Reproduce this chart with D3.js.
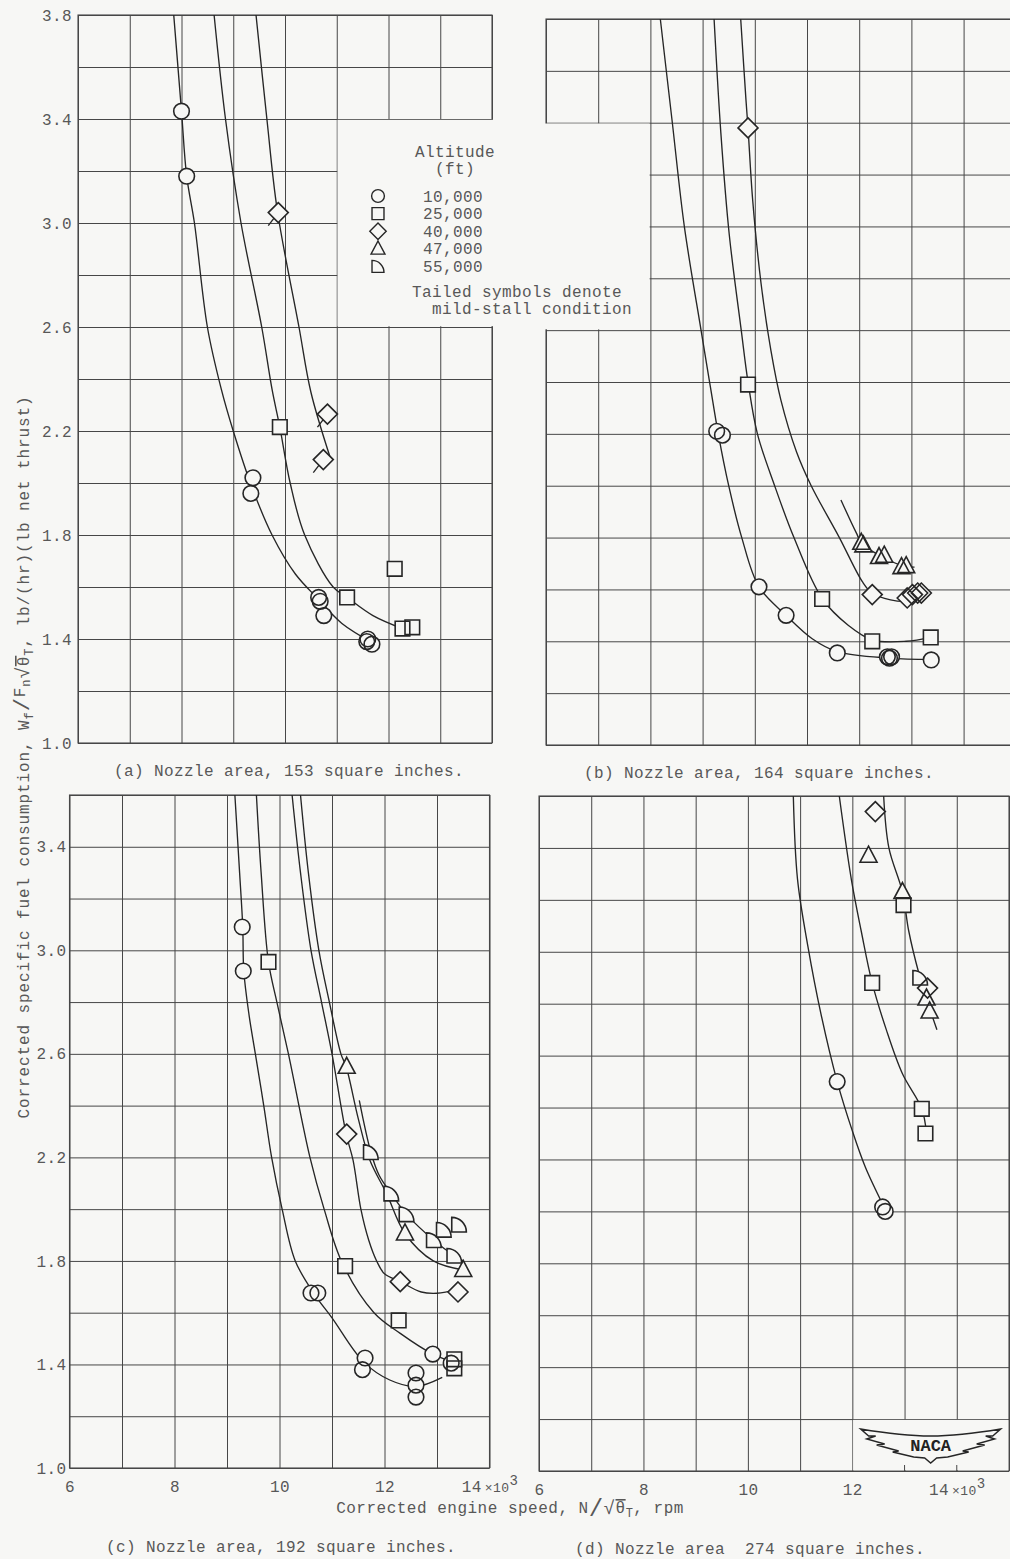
<!DOCTYPE html>
<html>
<head>
<meta charset="utf-8">
<script src="https://cdn.jsdelivr.net/npm/d3@7"></script>
<style>
  html, body { margin: 0; padding: 0; background: #f7f7f5; }
  svg { display: block; }
  text { font-family: "Liberation Mono", "DejaVu Sans Mono", monospace; fill: #585858; }
</style>
</head>
<body>
<div id="chart"></div>
<script>
// altitude series (legend) and their symbols
const altitudes = ["10,000", "25,000", "40,000", "47,000", "55,000"];
const symbolTypes = ["circle", "square", "diamond", "triangle", "quarter"];

const yTicksTop = [1.0, 1.4, 1.8, 2.2, 2.6, 3.0, 3.4, 3.8];
const yTicksBottom = [1.0, 1.4, 1.8, 2.2, 2.6, 3.0, 3.4];
const xTicks = [6, 8, 10, 12, 14];

// points: [altitude index, corrected speed (1000 rpm), corrected sfc, tailed]
const pointsA = [
    [0, 8.0, 3.43], [0, 8.1, 3.18], [0, 9.38, 2.02], [0, 9.34, 1.96],
    [0, 10.65, 1.56], [0, 10.68, 1.545], [0, 10.75, 1.49],
    [0, 11.6, 1.40], [0, 11.58, 1.39], [0, 11.68, 1.38],
    [1, 9.9, 2.215], [1, 11.2, 1.56], [1, 12.12, 1.67], [1, 12.27, 1.44], [1, 12.46, 1.445],
    [2, 9.87, 3.04, 1], [2, 10.82, 2.265, 1], [2, 10.74, 2.09, 1]
];
// faired curves: [altitude index, [[speed, sfc], ...]]
const curvesA = [
    [0, [[7.85, 3.8], [8.0, 3.43], [8.1, 3.18], [8.25, 3.0], [8.5, 2.6], [8.77, 2.36], [9.0, 2.2], [9.35, 1.99],
         [9.75, 1.8], [10.2, 1.65], [10.66, 1.55], [11.1, 1.46], [11.7, 1.385]]],
    [1, [[8.63, 3.8], [8.85, 3.4], [9.15, 3.0], [9.55, 2.6], [9.75, 2.36], [9.9, 2.215], [10.1, 2.0],
         [10.38, 1.8], [10.93, 1.6], [11.2, 1.56], [11.7, 1.49], [12.27, 1.44]]],
    [2, [[9.44, 3.8], [9.65, 3.4], [9.85, 3.05], [10.27, 2.6], [10.5, 2.35], [10.87, 2.1]]]
];

const pointsB = [
    [0, 9.27, 2.21], [0, 9.38, 2.195], [0, 10.08, 1.61], [0, 10.6, 1.50], [0, 11.58, 1.355],
    [0, 12.54, 1.34], [0, 12.58, 1.335], [0, 12.62, 1.34], [0, 13.38, 1.328],
    [1, 9.87, 2.39], [1, 11.29, 1.563], [1, 12.25, 1.40], [1, 13.37, 1.415],
    [2, 9.87, 3.38], [2, 12.25, 1.58], [2, 12.92, 1.567], [2, 13.02, 1.58], [2, 13.12, 1.586], [2, 13.19, 1.586],
    [3, 12.04, 1.78], [3, 12.08, 1.77], [3, 12.38, 1.725], [3, 12.48, 1.73], [3, 12.81, 1.686], [3, 12.9, 1.69]
];
const curvesB = [
    [0, [[8.19, 3.8], [8.42, 3.4], [8.65, 3.0], [8.97, 2.6], [9.15, 2.38], [9.3, 2.2], [9.5, 2.0], [9.75, 1.8],
         [10.08, 1.61], [10.6, 1.5], [11.1, 1.41], [11.58, 1.36], [12.58, 1.335], [13.38, 1.33]]],
    [1, [[9.22, 3.8], [9.35, 3.36], [9.51, 2.97], [9.74, 2.6], [9.87, 2.4], [10.05, 2.2], [10.38, 2.0], [10.75, 1.8],
         [11.29, 1.565], [11.8, 1.46], [12.25, 1.405], [12.9, 1.40], [13.37, 1.415]]],
    [2, [[9.73, 3.8], [9.83, 3.49], [9.87, 3.38], [9.96, 3.1], [10.12, 2.78], [10.31, 2.52], [10.5, 2.33],
         [10.8, 2.13], [11.08, 2.0], [11.62, 1.8], [12.06, 1.63], [12.25, 1.585], [12.6, 1.56], [12.92, 1.555], [13.12, 1.57]]],
    [3, [[11.65, 1.945], [11.94, 1.82], [12.06, 1.775], [12.43, 1.727], [12.85, 1.69], [13.06, 1.686]]]
];

const pointsC = [
    [0, 9.29, 3.09], [0, 9.31, 2.92], [0, 10.6, 1.676], [0, 10.73, 1.676], [0, 11.63, 1.425], [0, 11.58, 1.38],
    [0, 12.6, 1.367], [0, 12.6, 1.32], [0, 12.6, 1.274], [0, 12.92, 1.44], [0, 13.27, 1.405],
    [1, 9.79, 2.955], [1, 11.25, 1.78], [1, 12.27, 1.57], [1, 13.33, 1.42], [1, 13.33, 1.385],
    [2, 11.28, 2.29], [2, 12.3, 1.72], [2, 13.4, 1.68],
    [3, 11.28, 2.55], [3, 12.39, 1.906], [3, 13.5, 1.765],
    [4, 11.74, 2.22], [4, 12.13, 2.06], [4, 12.42, 1.98], [4, 12.94, 1.88], [4, 13.13, 1.92], [4, 13.33, 1.82], [4, 13.42, 1.94]
];
const curvesC = [
    [0, [[9.15, 3.6], [9.24, 3.3], [9.30, 3.09], [9.32, 2.92], [9.42, 2.75], [9.54, 2.6], [9.7, 2.4], [9.85, 2.2],
         [10.05, 2.0], [10.3, 1.8], [10.67, 1.67], [11.0, 1.58], [11.6, 1.41], [12.1, 1.34], [12.6, 1.315], [13.1, 1.35]]],
    [1, [[9.56, 3.6], [9.65, 3.3], [9.79, 2.955], [9.95, 2.8], [10.17, 2.6], [10.58, 2.2], [10.85, 2.0], [11.2, 1.79],
         [11.8, 1.6], [12.3, 1.52], [12.92, 1.44], [13.3, 1.41]]],
    [2, [[10.24, 3.6], [10.4, 3.3], [10.6, 3.0], [10.8, 2.8], [11.0, 2.6], [11.27, 2.29], [11.4, 2.19], [11.55, 2.0],
         [11.7, 1.88], [11.85, 1.8], [12.0, 1.75], [12.3, 1.72], [12.7, 1.68], [13.0, 1.675], [13.4, 1.69]]],
    [3, [[10.4, 3.6], [10.55, 3.3], [10.75, 3.0], [10.95, 2.8], [11.17, 2.6], [11.27, 2.55], [11.5, 2.35], [11.72, 2.19],
         [12.04, 2.06], [12.39, 1.906], [12.93, 1.80], [13.5, 1.765]]],
    [4, [[11.52, 2.42], [11.74, 2.22], [11.9, 2.13], [12.13, 2.06], [12.42, 1.98], [12.94, 1.88], [13.33, 1.82], [13.5, 1.80]]]
];

const pointsD = [
    [0, 11.71, 2.50], [0, 12.58, 2.017], [0, 12.63, 2.0],
    [1, 12.38, 2.88], [1, 12.98, 3.18], [1, 13.33, 2.395], [1, 13.4, 2.30],
    [2, 12.44, 3.54], [2, 13.44, 2.86],
    [3, 12.31, 3.37], [3, 12.96, 3.23], [3, 13.42, 2.82], [3, 13.48, 2.77],
    [4, 13.3, 2.90]
];
const curvesD = [
    [0, [[10.87, 3.6], [10.95, 3.28], [11.15, 3.02], [11.4, 2.76], [11.71, 2.5], [12.0, 2.31], [12.25, 2.17], [12.6, 2.02]]],
    [1, [[11.75, 3.6], [11.98, 3.28], [12.17, 3.08], [12.38, 2.88], [12.65, 2.7], [12.96, 2.53], [13.33, 2.395], [13.42, 2.3]]],
    [3, [[12.6, 3.6], [12.7, 3.4], [12.96, 3.23], [13.08, 3.08], [13.27, 2.92], [13.45, 2.8], [13.62, 2.7]]]
];

// layout
const W = 1010, H = 1559;
const bg = "#f7f7f5";
const ink = "#262626";
const gridInk = "#474747";

const panels = [
    { key: "a", points: pointsA, curves: curvesA, left: 78, top: 15, right: 492, bottom: 743, xMax: 14, yMax: 3.8,
      yTicks: yTicksTop, yPad: 6, caption: "(a) Nozzle area, 153 square inches.", capX: 289, capY: 776 },
    { key: "b", points: pointsB, curves: curvesB, left: 546, top: 19, right: 546 + 9 * 52.2, bottom: 745, xMax: 15, yMax: 3.8,
      caption: "(b) Nozzle area, 164 square inches.", capX: 759, capY: 778 },
    { key: "c", points: pointsC, curves: curvesC, left: 69.5, top: 795, right: 489.5, bottom: 1468, xMax: 14, yMax: 3.6,
      yTicks: yTicksBottom, yPad: 3, xTicks: xTicks, caption: "(c) Nozzle area, 192 square inches.", capX: 281, capY: 1552 },
    { key: "d", points: pointsD, curves: curvesD, left: 539, top: 796, right: 1009, bottom: 1471, xMax: 15, yMax: 3.6,
      xTicks: xTicks, caption: "(d) Nozzle area  274 square inches.", capX: 750, capY: 1554 }
];

const symbolPath = (type, k) => {
    switch (type) {
        case "circle": {
            const r = 7.8 * k;
            return `M${r},0A${r},${r} 0 1 1 ${-r},0A${r},${r} 0 1 1 ${r},0Z`;
        }
        case "square": {
            const h = 7.3 * k;
            return `M${-h},${-h}H${h}V${h}H${-h}Z`;
        }
        case "diamond": {
            const h = 10 * k;
            return `M0,${-h}L${h},0L0,${h}L${-h},0Z`;
        }
        case "triangle": {
            const h = 8.5 * k;
            return `M0,${-9.5 * k}L${h},${6.5 * k}L${-h},${6.5 * k}Z`;
        }
        default: {
            const h = 7.3 * k;
            return `M${-h},${-h}A${2 * h},${2 * h} 0 0 1 ${h},${h}H${-h}Z`;
        }
    }
};

const svg = d3.select("#chart").append("svg")
    .attr("width", W)
    .attr("height", H);

svg.append("rect").attr("width", W).attr("height", H).attr("fill", bg);

const defs = svg.append("defs");

panels.forEach(p => {
    p.x = d3.scaleLinear().domain([6, p.xMax]).range([p.left, p.right]);
    p.y = d3.scaleLinear().domain([1.0, p.yMax]).range([p.bottom, p.top]);
});

// grid
panels.forEach(p => {
    const g = svg.append("g").attr("class", "grid-" + p.key);
    const vx = d3.range(6, p.xMax + 0.5, 1);
    const hy = d3.range(10, Math.round(p.yMax * 10) + 1, 2).map(v => v / 10);

    g.append("g")
        .attr("transform", `translate(0,${p.bottom})`)
        .call(d3.axisBottom(p.x).tickValues(vx).tickSize(-(p.bottom - p.top)).tickFormat(""))
        .call(s => s.select(".domain").remove());
    g.append("g")
        .attr("transform", `translate(${p.left},0)`)
        .call(d3.axisLeft(p.y).tickValues(hy).tickSize(-(p.right - p.left)).tickFormat(""))
        .call(s => s.select(".domain").remove());
    g.selectAll(".tick line").attr("stroke", gridInk).attr("stroke-width", 1);

    g.append("rect")
        .attr("x", p.left).attr("y", p.top)
        .attr("width", p.right - p.left).attr("height", p.bottom - p.top)
        .attr("fill", "none").attr("stroke", gridInk).attr("stroke-width", 1.1);
});

const [pa, pb, pc, pd] = panels;

// blank area behind the legend (spans panels a and b)
svg.append("rect")
    .attr("x", pa.x(11) + 0.8).attr("y", pa.y(3.4) + 0.8)
    .attr("width", pa.right - pa.x(11) + 4).attr("height", pa.y(2.6) - pa.y(3.4) - 1.6)
    .attr("fill", bg);
svg.append("rect")
    .attr("x", pb.left - 4).attr("y", pb.y(3.4) + 0.8)
    .attr("width", pb.x(8) - pb.left + 3.2).attr("height", pb.y(2.6) - pb.y(3.4) - 1.6)
    .attr("fill", bg);

// blank area behind the NACA wings (panel d), keep small ticks at the bottom edge
svg.append("rect")
    .attr("x", pd.x(12) + 0.8).attr("y", pd.y(1.2) + 0.8)
    .attr("width", pd.right - pd.x(12) - 1.6).attr("height", pd.y(1.0) - pd.y(1.2) - 1.6)
    .attr("fill", bg);
[13, 14].forEach(v => {
    svg.append("line")
        .attr("x1", pd.x(v)).attr("x2", pd.x(v))
        .attr("y1", pd.y(1.0) - 6).attr("y2", pd.y(1.0))
        .attr("stroke", gridInk);
});

// curves and symbols
const line = d3.line().curve(d3.curveCatmullRom.alpha(0.5));

panels.forEach(p => {
    defs.append("clipPath").attr("id", "clip-" + p.key)
        .append("rect")
        .attr("x", p.left).attr("y", p.top)
        .attr("width", p.right - p.left).attr("height", p.bottom - p.top);

    const g = svg.append("g").attr("clip-path", `url(#clip-${p.key})`);

    g.selectAll("path.curve")
        .data(p.curves)
        .join("path")
        .attr("class", "curve")
        .attr("d", d => line(d[1].map(q => [p.x(q[0]), p.y(q[1])])))
        .attr("fill", "none")
        .attr("stroke", ink)
        .attr("stroke-width", 1.35);

    // tails for mild-stall points
    g.selectAll("line.tail")
        .data(p.points.filter(d => d[3]))
        .join("line")
        .attr("class", "tail")
        .attr("x1", d => p.x(d[1])).attr("y1", d => p.y(d[2]))
        .attr("x2", d => p.x(d[1]) - 10).attr("y2", d => p.y(d[2]) + 13)
        .attr("stroke", ink).attr("stroke-width", 1.35);

    // masks so curves stop at the symbol edge
    g.selectAll("path.mask")
        .data(p.points)
        .join("path")
        .attr("class", "mask")
        .attr("transform", d => `translate(${p.x(d[1])},${p.y(d[2])})`)
        .attr("d", d => symbolPath(symbolTypes[d[0]], 1))
        .attr("fill", bg);

    g.selectAll("path.sym")
        .data(p.points)
        .join("path")
        .attr("class", "sym")
        .attr("transform", d => `translate(${p.x(d[1])},${p.y(d[2])})`)
        .attr("d", d => symbolPath(symbolTypes[d[0]], 1))
        .attr("fill", "none")
        .attr("stroke", ink)
        .attr("stroke-width", 1.6);
});

// tick labels
const styleText = s => s.selectAll("text")
    .attr("font-family", "Liberation Mono, DejaVu Sans Mono, monospace")
    .attr("font-size", 16)
    .attr("letter-spacing", 0.4)
    .attr("fill", "#5c5c5c");

panels.filter(p => p.yTicks).forEach(p => {
    svg.append("g")
        .attr("transform", `translate(${p.left},0)`)
        .call(d3.axisLeft(p.y).tickValues(p.yTicks).tickSize(0).tickPadding(p.yPad).tickFormat(d3.format(".1f")))
        .call(s => s.select(".domain").remove())
        .call(styleText);
});

panels.filter(p => p.xTicks).forEach(p => {
    const ax = svg.append("g")
        .attr("transform", `translate(0,${p.bottom})`)
        .call(d3.axisBottom(p.x).tickValues(p.xTicks).tickSize(0).tickPadding(13).tickFormat(d => d))
        .call(s => s.select(".domain").remove())
        .call(styleText);
    ax.selectAll(".tick text").filter(d => d === 14).each(function () {
        const t = d3.select(this).text(null);
        t.append("tspan").text("14");
        t.append("tspan").attr("font-size", 13).attr("dx", 3).text("×10");
        t.append("tspan").attr("font-size", 14).attr("dy", -7).text("3");
    });
});

// captions
panels.forEach(p => {
    svg.append("text")
        .attr("x", p.capX).attr("y", p.capY)
        .attr("text-anchor", "middle")
        .attr("font-size", 16)
        .attr("letter-spacing", 0.4)
        .style("white-space", "pre")
        .text(p.caption);
});

// y axis title
const yt = svg.append("text")
    .attr("transform", "translate(29,757) rotate(-90)")
    .attr("text-anchor", "middle")
    .attr("font-size", 16)
    .attr("letter-spacing", 0.9);
yt.append("tspan").text("Corrected specific fuel consumption, W");
yt.append("tspan").attr("font-size", 12).attr("dy", 4).text("f");
yt.append("tspan").attr("font-size", 22).attr("dy", -4).text("/");
yt.append("tspan").attr("dy", -4).text("F");
yt.append("tspan").attr("font-size", 12).attr("dy", 5).text("n");
yt.append("tspan").attr("font-size", 19).attr("dy", -1).text("√");
yt.append("tspan").attr("text-decoration", "overline").text("θ");
yt.append("tspan").attr("font-size", 12).attr("dy", 4).text("T");
yt.append("tspan").attr("dy", -4).text(", lb/(hr)(lb net thrust)");

// x axis title
const xt = svg.append("text")
    .attr("x", 510).attr("y", 1513)
    .attr("text-anchor", "middle")
    .attr("font-size", 16)
    .attr("letter-spacing", 0.5);
xt.append("tspan").text("Corrected engine speed, N");
xt.append("tspan").attr("font-size", 24).attr("dy", 3).text("/");
xt.append("tspan").attr("font-size", 19).attr("dy", -2).text("√");
xt.append("tspan").attr("text-decoration", "overline").attr("dy", -1).text("θ");
xt.append("tspan").attr("font-size", 12).attr("dy", 4).text("T");
xt.append("tspan").attr("dy", -4).text(", rpm");

// legend
const lg = svg.append("g").attr("class", "legend");
lg.append("text").attr("x", 455).attr("y", 157).attr("text-anchor", "middle")
    .attr("font-size", 16).attr("letter-spacing", 0.4).text("Altitude");
lg.append("text").attr("x", 455).attr("y", 174).attr("text-anchor", "middle")
    .attr("font-size", 16).attr("letter-spacing", 0.4).text("(ft)");
altitudes.forEach((a, i) => {
    const yy = 196 + i * 17.6;
    lg.append("path")
        .attr("transform", `translate(378,${yy})`)
        .attr("d", symbolPath(symbolTypes[i], 0.82))
        .attr("fill", "none").attr("stroke", ink).attr("stroke-width", 1.4);
    lg.append("text").attr("x", 423).attr("y", yy + 5.5)
        .attr("font-size", 16).attr("letter-spacing", 0.4).text(a);
});
lg.append("text").attr("x", 412).attr("y", 297)
    .attr("font-size", 16).attr("letter-spacing", 0.4).text("Tailed symbols denote");
lg.append("text").attr("x", 432).attr("y", 314)
    .attr("font-size", 16).attr("letter-spacing", 0.4).text("mild-stall condition");

// NACA wings
const cx = pd.x(13.5), cy = pd.y(1.1);
const wing = svg.append("g").attr("transform", `translate(${cx},${cy})`);
wing.append("path")
    .attr("d", "M-70,-16 C-40,-11 -20,-9 0,-9 C20,-9 40,-11 70,-16 L62,-9 L55,-9 L64,-6 L46,-1 L54,0 L32,6 L38,7 L17,12 L6,13 L0,18 L-6,13 L-17,12 L-38,7 L-32,6 L-54,0 L-46,-1 L-64,-6 L-55,-9 L-62,-9 Z")
    .attr("fill", bg).attr("stroke", ink).attr("stroke-width", 1.4);
wing.append("text")
    .attr("y", 6).attr("text-anchor", "middle")
    .attr("font-family", "DejaVu Sans, sans-serif")
    .attr("font-weight", "bold")
    .attr("font-size", 17)
    .style("fill", "#222")
    .text("NACA");
</script>
</body>
</html>
